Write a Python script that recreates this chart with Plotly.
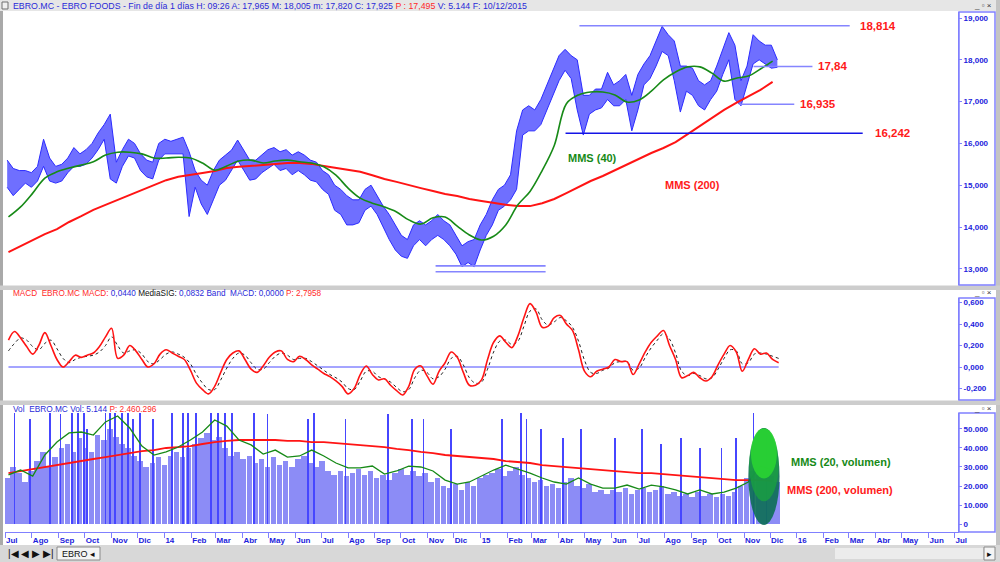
import pandas as pd
import plotly.graph_objects as go

# ---------------- DATA ----------------
FIRST_WEEK = "2013-07-05"
N_WEEKS = 128
week_dates = pd.date_range(FIRST_WEEK, periods=N_WEEKS, freq="7D")
ma_dates = week_dates[::2]

price_high = [15.60, 15.40, 15.35, 15.35, 15.30, 15.45, 16.10, 15.65, 15.45, 15.50,
              15.65, 15.90, 15.75, 15.85, 16.00, 16.25, 16.45, 16.70, 15.55, 15.85,
              16.10, 16.00, 15.75, 15.60, 15.55, 16.00, 16.10, 16.05, 16.10, 16.15,
              15.80, 15.35, 15.12, 15.00, 15.35, 15.60, 15.72, 15.84, 16.08, 15.84,
              15.60, 15.60, 15.72, 15.85, 15.90, 15.80, 15.85, 15.72, 15.80, 15.72,
              15.60, 15.55, 15.35, 15.25, 15.00, 14.90, 14.75, 14.65, 14.65, 14.90,
              15.00, 14.75, 14.50, 14.30, 14.05, 13.80, 13.70, 14.05, 14.15, 14.05,
              14.15, 14.30, 14.15, 14.05, 13.80, 13.55, 13.65, 13.70, 14.05, 14.30,
              14.65, 14.90, 15.00, 15.25, 16.30, 16.80, 16.90, 16.80, 17.05, 17.40,
              17.75, 18.10, 18.25, 18.10, 18.00, 17.15, 17.15, 17.30, 17.30, 17.70,
              17.40, 17.50, 17.65, 17.15, 17.65, 17.90, 18.10, 18.45, 18.80, 18.60,
              18.45, 17.85, 17.85, 17.80, 17.50, 17.40, 17.50, 17.85, 18.25, 18.65,
              18.35, 17.50, 17.85, 18.60, 18.45, 18.35, 18.35, 18.00]
price_low = [14.95, 14.75, 14.90, 15.05, 14.95, 15.10, 15.45, 15.10, 15.05, 15.10,
             15.30, 15.45, 15.45, 15.50, 15.65, 15.85, 16.10, 15.15, 15.05, 15.45,
             15.70, 15.65, 15.35, 15.20, 15.15, 15.60, 15.75, 15.75, 15.75, 15.75,
             14.25, 14.95, 14.55, 14.30, 14.65, 15.00, 15.12, 15.36, 15.60, 15.36,
             15.12, 15.15, 15.30, 15.40, 15.50, 15.35, 15.40, 15.25, 15.35, 15.25,
             15.12, 15.08, 14.90, 14.78, 14.40, 14.30, 14.05, 14.05, 14.10, 14.40,
             14.50, 14.30, 13.98, 13.70, 13.45, 13.30, 13.25, 13.55, 13.70, 13.55,
             13.70, 13.80, 13.70, 13.55, 13.35, 13.05, 13.15, 13.05, 13.45, 13.80,
             14.05, 14.40, 14.50, 14.65, 14.90, 16.20, 16.30, 16.30, 16.45, 16.80,
             17.15, 17.50, 17.75, 17.55, 16.80, 16.20, 16.70, 16.80, 16.85, 17.05,
             16.90, 16.90, 17.05, 16.30, 16.80, 17.40, 17.55, 17.85, 18.20, 18.10,
             17.50, 16.75, 17.25, 17.15, 16.90, 16.80, 17.05, 17.25, 17.65, 18.00,
             17.05, 16.90, 17.40, 17.90, 18.00, 17.90, 17.80, 17.82]

mms40 = [14.24, 14.48, 14.81, 15.17, 15.32, 15.41, 15.48, 15.56, 15.72, 15.79,
         15.79, 15.75, 15.65, 15.65, 15.67, 15.65, 15.53, 15.36, 15.46, 15.58,
         15.60, 15.53, 15.58, 15.60, 15.56, 15.53, 15.44, 15.24, 14.93, 14.69,
         14.57, 14.48, 14.36, 14.17, 14.07, 14.22, 14.24, 14.02, 13.81, 13.69,
         13.78, 14.05, 14.53, 14.85, 15.35, 15.95, 16.95, 17.16, 17.23, 17.23,
         17.16, 16.99, 17.04, 17.25, 17.52, 17.71, 17.83, 17.83, 17.68, 17.49,
         17.56, 17.61, 17.78, 17.97]
mms200 = [13.40, 13.55, 13.69, 13.83, 13.95, 14.12, 14.26, 14.41, 14.53, 14.65,
          14.77, 14.89, 15.00, 15.12, 15.20, 15.24, 15.29, 15.34, 15.41, 15.44,
          15.46, 15.48, 15.51, 15.53, 15.53, 15.51, 15.46, 15.41, 15.36, 15.32,
          15.24, 15.15, 15.08, 15.00, 14.93, 14.86, 14.79, 14.74, 14.67, 14.62,
          14.57, 14.53, 14.50, 14.50, 14.57, 14.67, 14.81, 14.96, 15.10, 15.22,
          15.36, 15.51, 15.65, 15.77, 15.89, 16.03, 16.22, 16.42, 16.61, 16.80,
          16.97, 17.13, 17.28, 17.47]

macd = [0.25, 0.33, 0.27, 0.19, 0.12, 0.20, 0.32, 0.20, 0.07, 0.00,
        0.05, 0.11, 0.09, 0.11, 0.13, 0.19, 0.28, 0.36, 0.08, 0.11,
        0.20, 0.15, 0.07, 0.00, 0.03, 0.12, 0.16, 0.13, 0.10, 0.07,
        -0.03, -0.15, -0.21, -0.25, -0.18, -0.05, 0.07, 0.13, 0.15, 0.07,
        -0.02, -0.05, 0.01, 0.09, 0.14, 0.15, 0.07, 0.05, 0.10, 0.07,
        0.02, -0.02, -0.06, -0.09, -0.13, -0.18, -0.25, -0.20, -0.07, 0.01,
        -0.07, -0.12, -0.11, -0.17, -0.22, -0.26, -0.18, -0.02, 0.01, -0.08,
        -0.16, -0.04, 0.04, 0.14, 0.09, -0.05, -0.17, -0.17, -0.12, 0.07,
        0.23, 0.29, 0.23, 0.18, 0.29, 0.46, 0.59, 0.51, 0.37, 0.38,
        0.46, 0.48, 0.40, 0.34, 0.16, -0.04, -0.09, -0.04, -0.02, 0.00,
        0.07, 0.05, 0.05, -0.07, 0.03, 0.14, 0.23, 0.29, 0.34, 0.20,
        0.07, -0.10, -0.08, -0.05, -0.10, -0.13, -0.09, 0.02, 0.12, 0.20,
        0.14, -0.04, 0.07, 0.17, 0.12, 0.13, 0.07, 0.04]
macd_signal = [0.15, 0.22, 0.27, 0.25, 0.19, 0.16, 0.22, 0.25, 0.17, 0.08,
               0.04, 0.07, 0.09, 0.10, 0.11, 0.14, 0.20, 0.28, 0.20, 0.13,
               0.15, 0.16, 0.12, 0.05, 0.03, 0.07, 0.12, 0.14, 0.12, 0.09,
               0.03, -0.07, -0.15, -0.21, -0.21, -0.12, -0.01, 0.08, 0.13, 0.11,
               0.04, -0.02, -0.02, 0.04, 0.10, 0.13, 0.11, 0.07, 0.08, 0.08,
               0.05, 0.01, -0.03, -0.07, -0.10, -0.14, -0.20, -0.21, -0.13, -0.04,
               -0.04, -0.09, -0.11, -0.14, -0.19, -0.23, -0.21, -0.10, -0.03, -0.05,
               -0.11, -0.09, -0.02, 0.08, 0.10, 0.02, -0.10, -0.15, -0.14, -0.02,
               0.14, 0.24, 0.25, 0.21, 0.24, 0.38, 0.52, 0.54, 0.44, 0.39,
               0.42, 0.46, 0.43, 0.37, 0.24, 0.06, -0.05, -0.06, -0.03, -0.01,
               0.04, 0.05, 0.05, -0.03, -0.01, 0.09, 0.18, 0.25, 0.31, 0.26,
               0.13, -0.04, -0.08, -0.06, -0.08, -0.11, -0.10, -0.02, 0.08, 0.16,
               0.15, 0.03, 0.04, 0.12, 0.13, 0.12, 0.10, 0.08]
macd_band = 0.0

# volume in thousands
vol_week = [24, 30, 27, 22, 28, 33, 38, 30, 35, 40,
            42, 38, 45, 40, 38, 47, 44, 50, 46, 42,
            40, 36, 33, 30, 32, 35, 31, 36, 38, 35,
            40, 42, 45, 48, 44, 46, 40, 36, 38, 34,
            36, 32, 34, 30, 35, 31, 33, 30, 34, 36,
            32, 30, 33, 28, 26, 28, 25, 27, 29, 26,
            28, 24, 26, 23, 27, 29, 26, 28, 25, 27,
            22, 24, 20, 19, 21, 18, 22, 20, 24, 26,
            27, 29, 25, 28, 30, 26, 24, 22, 23, 20,
            21, 19, 22, 24, 20, 19, 21, 17, 18, 16,
            18, 17, 19, 16, 18, 19, 17, 18, 20, 16,
            17, 15, 16, 14, 17, 15, 16, 14, 16, 15,
            17, 20, 24, 28, 26, 27, 25, 22]
spike_dates = ["2013-07-12", "2013-07-30", "2013-08-22", "2013-09-03", "2013-09-16", "2013-09-23",
               "2013-09-30", "2013-10-04", "2013-10-25", "2013-10-30", "2013-11-05", "2013-11-13",
               "2013-11-20", "2013-11-26", "2013-12-04", "2013-12-19", "2014-01-10", "2014-01-22",
               "2014-01-28", "2014-02-06", "2014-02-24", "2014-03-04", "2014-03-12", "2014-03-20",
               "2014-04-14", "2014-04-30", "2014-06-16", "2014-06-23", "2014-07-29", "2014-09-16",
               "2014-10-14", "2014-10-27", "2014-11-28", "2015-01-26", "2015-02-17", "2015-02-23",
               "2015-03-12", "2015-04-06", "2015-04-27", "2015-06-05", "2015-07-06", "2015-07-28",
               "2015-08-20", "2015-09-11", "2015-10-06", "2015-10-23", "2015-11-12", "2015-11-27"]
spike_values = [60, 55, 62, 58, 62, 60, 62, 50, 62, 62, 62, 62,
                60, 55, 62, 55, 62, 62, 62, 62, 62, 62, 62, 62,
                60, 58, 55, 60, 55, 58, 55, 55, 50, 55, 60, 55,
                50, 45, 50, 45, 50, 42, 45, 40, 40, 45, 60, 48]
vol_mms20 = [25.8, 28.4, 25.2, 36.3, 43.1, 47.9, 48.4, 46.8, 53.7, 56.8,
             50.5, 41.0, 36.3, 37.9, 40.5, 44.2, 48.4, 54.7, 51.5, 44.2,
             41.6, 36.8, 38.9, 35.2, 35.8, 38.9, 35.8, 32.1, 29.5, 29.5,
             30.5, 26.3, 27.9, 30.5, 30.0, 27.9, 23.1, 21.0, 22.1, 25.2,
             28.4, 31.0, 28.9, 26.8, 24.2, 22.1, 21.0, 24.2, 21.0, 18.9,
             18.9, 20.5, 18.4, 20.5, 19.5, 17.9, 15.8, 17.9, 15.8, 16.8,
             18.9, 22.1, 30.5, 28.4]
vol_mms200 = [26.8, 27.9, 28.9, 30.0, 31.0, 32.1, 33.1, 34.2, 35.2, 36.3,
              37.3, 38.4, 38.9, 40.0, 40.5, 41.0, 42.1, 43.1, 43.7, 44.2,
              44.2, 44.2, 44.2, 43.7, 43.7, 43.1, 43.1, 42.6, 42.1, 41.6,
              41.0, 40.5, 39.5, 38.9, 37.9, 37.3, 36.3, 35.8, 35.2, 34.7,
              34.2, 33.1, 32.6, 32.1, 31.0, 30.5, 30.0, 29.5, 28.9, 28.4,
              27.9, 27.4, 26.8, 26.8, 26.3, 25.8, 25.2, 24.7, 24.2, 23.7,
              23.1, 23.1, 23.1, 22.6]

# horizontal price levels drawn on the chart
level_values = [18.814, 17.84, 16.935, 16.242, 13.07, 12.93]
level_start = ["2015-04-25", "2015-11-12", "2015-10-26", "2015-04-09", "2014-11-10", "2014-11-10"]
level_end = ["2016-03-02", "2016-01-19", "2015-12-29", "2016-03-17", "2015-03-17", "2015-03-17"]
level_labels = ["18,814", "17,84", "16,935", "16,242", "", ""]

month_ticks = pd.date_range("2013-07-01", "2016-07-01", freq="MS")
month_labels = ["Jul", "Ago", "Sep", "Oct", "Nov", "Dic",
                "14", "Feb", "Mar", "Abr", "May", "Jun", "Jul", "Ago", "Sep", "Oct", "Nov", "Dic",
                "15", "Feb", "Mar", "Abr", "May", "Jun", "Jul", "Ago", "Sep", "Oct", "Nov", "Dic",
                "16", "Feb", "Mar", "Abr", "May", "Jun", "Jul"]
price_ticks = [13, 14, 15, 16, 17, 18, 19]
price_ticktext = ["13,000", "14,000", "15,000", "16,000", "17,000", "18,000", "19,000"]
macd_ticks = [-0.2, 0.0, 0.2, 0.4, 0.6]
macd_ticktext = ["-0,200", "0,000", "0,200", "0,400", "0,600"]
vol_ticks = [0, 10, 20, 30, 40, 50]
vol_ticktext = ["0", "10.000", "20.000", "30.000", "40.000", "50.000"]

# ---------------- STYLE ----------------
W, H = 1000, 562
FONT = "Liberation Sans"
PRICE_BLUE = "#2b2bff"
GREEN = "#178a17"
RED = "#ff1414"
AXIS_BLUE = "#8080ff"
TXT_BLUE = "#1c1cdc"

def px(x):
    return x / W

def py(y):
    return 1 - y / H

fig = go.Figure()

# price: weekly high/low band
band_x = week_dates - pd.Timedelta(days=1.5)
fig.add_trace(go.Scatter(x=band_x, y=price_high, mode="lines", line=dict(color=PRICE_BLUE, width=1),
                         xaxis="x", yaxis="y"))
fig.add_trace(go.Scatter(x=band_x, y=price_low, mode="lines", line=dict(color=PRICE_BLUE, width=1),
                         fill="tonexty", fillcolor="rgba(55,55,255,0.72)", xaxis="x", yaxis="y"))
fig.add_trace(go.Scatter(x=ma_dates, y=mms200, mode="lines", line=dict(color=RED, width=2),
                         xaxis="x", yaxis="y"))
fig.add_trace(go.Scatter(x=ma_dates, y=mms40, mode="lines", line=dict(color=GREEN, width=1.6, shape="spline"),
                         xaxis="x", yaxis="y"))

# MACD
fig.add_trace(go.Scatter(x=[week_dates[0], week_dates[-1]], y=[macd_band, macd_band], mode="lines",
                         line=dict(color="#4a4aff", width=1), xaxis="x2", yaxis="y2"))
fig.add_trace(go.Scatter(x=week_dates, y=macd_signal, mode="lines",
                         line=dict(color="#222222", width=1, dash="dot", shape="spline"), xaxis="x2", yaxis="y2"))
fig.add_trace(go.Scatter(x=week_dates, y=macd, mode="lines",
                         line=dict(color=RED, width=1.6, shape="spline"), xaxis="x2", yaxis="y2"))

# Volume
fig.add_trace(go.Bar(x=week_dates - pd.Timedelta(days=2), y=vol_week, width=6.4 * 86400000,
                     marker=dict(color="#8c8cf6", line=dict(width=0)), xaxis="x3", yaxis="y3"))
fig.add_trace(go.Bar(x=pd.to_datetime(spike_dates), y=spike_values, width=1.0 * 86400000,
                     marker=dict(color="#4646ff", line=dict(width=0)), xaxis="x3", yaxis="y3"))
fig.add_trace(go.Scatter(x=ma_dates, y=vol_mms200, mode="lines", line=dict(color=RED, width=1.8),
                         xaxis="x3", yaxis="y3"))
fig.add_trace(go.Scatter(x=ma_dates, y=vol_mms20, mode="lines", line=dict(color=GREEN, width=1.3),
                         xaxis="x3", yaxis="y3"))

X_RANGE = ["2013-07-01", "2016-07-05"]
XDOM = [px(5), px(958)]
xcommon = dict(type="date", range=X_RANGE, domain=XDOM, showgrid=False, zeroline=False, fixedrange=True,
               automargin=False)
ycommon = dict(side="right", showgrid=False, zeroline=False, showline=True, linecolor=AXIS_BLUE,
               linewidth=1, ticks="outside", ticklen=3, tickcolor=AXIS_BLUE, automargin=False,
               tickfont=dict(family=FONT, size=8, color=TXT_BLUE, weight="bold"))

fig.update_layout(
    width=W, height=H, margin=dict(l=0, r=0, t=0, b=0, autoexpand=False),
    paper_bgcolor="white", plot_bgcolor="white", showlegend=False, hovermode=False,
    bargap=0, barmode="overlay",
    xaxis=dict(xcommon, anchor="y", showticklabels=False),
    xaxis2=dict(xcommon, anchor="y2", matches="x", showticklabels=False),
    xaxis3=dict(xcommon, anchor="y3", matches="x", showline=True, linecolor=AXIS_BLUE, linewidth=1,
                ticks="outside", ticklen=5, tickcolor=AXIS_BLUE, tickvals=month_ticks, ticktext=month_labels,
                ticklabelposition="outside right",
                tickfont=dict(family=FONT, size=8, color=TXT_BLUE, weight="bold")),
    yaxis=dict(ycommon, anchor="x", domain=[py(285), py(12)], range=[12.6124, 19.1435],
               tickvals=price_ticks, ticktext=price_ticktext),
    yaxis2=dict(ycommon, anchor="x2", domain=[py(400), py(298)], range=[-0.307, 0.642],
                tickvals=macd_ticks, ticktext=macd_ticktext),
    yaxis3=dict(ycommon, anchor="x3", domain=[py(532), py(413)], range=[-4.2, 58.4],
                tickvals=vol_ticks, ticktext=vol_ticktext),
)

shapes = []
def prect(x0, x1, y0, y1, fill, line=None, layer="above"):
    shapes.append(dict(type="rect", xref="paper", yref="paper", x0=px(x0), x1=px(x1), y0=py(y1), y1=py(y0),
                       fillcolor=fill, line=line or dict(width=0), layer=layer))

# window chrome
prect(0, 1000, 0, 11, "#e6e6e6")
prect(0, 3, 11, 545, "#a9a9a9")
prect(996, 1000, 0, 562, "#c4c4c4")
prect(0, 1000, 285.5, 290, "#cdcdcd")
prect(0, 1000, 400.5, 405, "#cdcdcd")
prect(0, 1000, 545, 562, "#d8d8d8")
prect(57, 100, 547, 560, "#f4f4f4", dict(color="#8a8a8a", width=1))
prect(835, 983, 548, 559, "#ececec")
prect(984, 995, 547, 560, "#f4f4f4", dict(color="#8a8a8a", width=1))
prect(2, 8, 2, 9, "#f0f0f0", dict(color="#707070", width=1))
# axis boxes
for (a, b) in [(12, 285), (298, 400), (413, 532)]:
    prect(959, 995, a, b, "rgba(0,0,0,0)", dict(color=AXIS_BLUE, width=1.5))

# level lines
for v, s, e, lab in zip(level_values, level_start, level_end, level_labels):
    col = "#1414e6" if lab == "16,242" else "#8585ff"
    shapes.append(dict(type="line", xref="x", yref="y", x0=s, x1=e, y0=v, y1=v,
                       line=dict(color=col, width=1.6), layer="above"))

# green ellipse highlighting recent volume
ell = [("2015-11-06", "2015-12-12", -0.5, 50.5, "#0f6f58", 0.92),
       ("2015-11-07", "2015-12-11", 12, 50.5, "#1aa43e", 0.75),
       ("2015-11-09", "2015-12-09", 24, 50.3, "#2ee02e", 0.75)]
for x0, x1, y0, y1, c, op in ell:
    shapes.append(dict(type="circle", xref="x3", yref="y3", x0=x0, x1=x1, y0=y0, y1=y1,
                       fillcolor=c, opacity=op, line=dict(width=0), layer="above"))
fig.update_layout(shapes=shapes)

ann = []
for v, e, lab, sh in zip(level_values, level_end, level_labels, [8, 4, 4, 10, 0, 0]):
    if lab:
        ann.append(dict(x=e, y=v, xref="x", yref="y", text=lab, showarrow=False, xanchor="left",
                        yanchor="middle", xshift=sh, font=dict(family=FONT, size=11.5, color="#ff1a1a", weight="bold")))
ann.append(dict(x="2015-04-09", y=15.65, xref="x", yref="y", text="MMS (40)", showarrow=False, xanchor="left",
                font=dict(family=FONT, size=11, color="#178a17", weight="bold")))
ann.append(dict(x="2015-07-30", y=15.0, xref="x", yref="y", text="MMS (200)", showarrow=False, xanchor="left",
                font=dict(family=FONT, size=11, color="#ff1a1a", weight="bold")))
ann.append(dict(x="2015-12-23", y=32.6, xref="x3", yref="y3", text="MMS (20, volumen)", showarrow=False,
                xanchor="left", font=dict(family=FONT, size=11, color="#178a17", weight="bold")))
ann.append(dict(x="2015-12-18", y=17.9, xref="x3", yref="y3", text="MMS (200, volumen)", showarrow=False,
                xanchor="left", font=dict(family=FONT, size=11, color="#ff1a1a", weight="bold")))

def ptext(x, y, text, size=8, color="#1c1cdc", anchor="left"):
    ann.append(dict(x=px(x), y=py(y), xref="paper", yref="paper", text=text, showarrow=False,
                    xanchor=anchor, yanchor="middle", font=dict(family=FONT, size=size, color=color)))

B = "#2a2ad8"; R = "#ff2a2a"
ptext(11, 5.5, f'<span style="color:{B}">EBRO.MC - EBRO FOODS - Fin de día 1 días H: 09:26 A: 17,965 M: 18,005 '
               f'm: 17,820 C: 17,925 </span><span style="color:{R}">P : 17,495</span>'
               f'<span style="color:{B}"> V: 5.144 F: 10/12/2015</span>', size=8.8)
ptext(11, 293.5, f'<span style="color:{R}">MACD  EBRO.MC MACD: </span><span style="color:{B}">0,0440</span>'
                 f'<span style="color:#111"> MediaSIG: </span><span style="color:{B}">0,0832 Band  MACD: 0,0000 </span>'
                 f'<span style="color:{R}">P: 2,7958</span>', size=8.2)
ptext(11, 409, f'<span style="color:{B}">Vol  EBRO.MC Vol: 5.144 </span><span style="color:{R}">P: 2.460.296</span>', size=8.3)
for yy in (5, 292.5, 408.5):
    ptext(983, yy, "_ ▫ ×", size=8, color="#333333", anchor="center")
ptext(6, 553.5, "|◀ ◀ ▶ ▶|", size=10, color="#111111")
ptext(60, 553.5, "EBRO", size=9, color="#111111")
ptext(92, 553.5, "◂", size=9, color="#111111", anchor="center")
ptext(989.5, 553.5, "▸", size=9, color="#111111", anchor="center")
fig.update_layout(annotations=ann)

fig.write_html("out.html", config={"displayModeBar": False})
